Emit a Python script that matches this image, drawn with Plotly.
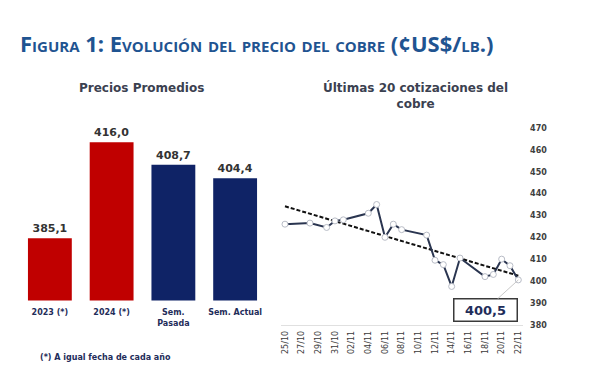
import numpy as np
import pandas as pd
import plotly.graph_objects as go

# ---- data ----
bar_categories = ["2023 (*)", "2024 (*)", "Sem.<br>Pasada", "Sem. Actual"]
bar_values = [385.1, 416.0, 408.7, 404.4]
bar_colors = ["#c00000", "#c00000", "#0f2366", "#0f2366"]

quote_dates = ["2024-10-25", "2024-10-28", "2024-10-30", "2024-10-31", "2024-11-01",
               "2024-11-04", "2024-11-05", "2024-11-06", "2024-11-07", "2024-11-08",
               "2024-11-11", "2024-11-12", "2024-11-13", "2024-11-14", "2024-11-15",
               "2024-11-18", "2024-11-19", "2024-11-20", "2024-11-21", "2024-11-22"]
quote_values = [426.0, 426.5, 424.5, 427.5, 428.0,
                431.0, 435.0, 420.0, 426.0, 423.5,
                421.0, 409.5, 407.5, 397.5, 410.5,
                402.0, 403.0, 410.0, 407.0, 400.5]
last_label = "400,5"

y_ticks = [380, 390, 400, 410, 420, 430, 440, 450, 460, 470]

FONT = "DejaVu Sans"
NAVY = "#1f2d5a"
SLATE = "#3b4150"

# trend line (linear fit over date)
dts = pd.to_datetime(quote_dates)
days = (dts - dts[0]).days.values.astype(float)
coef = np.polyfit(days, np.array(quote_values), 1)
trend = np.polyval(coef, days)

fig = go.Figure()

fig.add_trace(go.Bar(
    x=bar_categories, y=bar_values,
    marker=dict(color=bar_colors, line=dict(width=0)),
    text=[f"{v:.1f}".replace(".", ",") for v in bar_values],
    textposition="outside", cliponaxis=False,
    textfont=dict(family=FONT, size=11, color="#333333", weight="bold"),
    xaxis="x", yaxis="y", showlegend=False,
))

fig.add_trace(go.Scatter(
    x=quote_dates, y=trend, mode="lines",
    line=dict(color="#111111", width=2, dash="4px,2px"),
    xaxis="x2", yaxis="y2", showlegend=False,
))

fig.add_trace(go.Scatter(
    x=quote_dates, y=quote_values, mode="lines+markers",
    line=dict(color="#2a3550", width=2),
    marker=dict(symbol="circle", size=6, color="white", line=dict(color="#b8bcc6", width=1)),
    xaxis="x2", yaxis="y2", showlegend=False,
))

fig.update_layout(
    width=594, height=384,
    margin=dict(l=0, r=0, t=0, b=0),
    paper_bgcolor="white", plot_bgcolor="white",
    bargap=0.29,
    font=dict(family=FONT, color=SLATE),
    xaxis=dict(domain=[11/594, 258/594], anchor="y", showline=False,
               ticks="outside", ticklen=4, tickcolor="white",
               tickfont=dict(family=FONT, size=8, color=NAVY, weight="bold"),
               showgrid=False, zeroline=False),
    yaxis=dict(domain=[0.2305, 0.7688], range=[365, 430], visible=False,
               showgrid=False, zeroline=False),
    xaxis2=dict(domain=[272.8/594, 514.5/594], anchor="y2", type="date",
                range=["2024-10-24 12:00", "2024-11-22 12:00"],
                tick0="2024-10-25", dtick=2*86400000, tickformat="%d/%m",
                tickangle=-90, tickfont=dict(family=FONT, size=8, color="#3a3a3a"),
                showline=True, linecolor="#e0e0e0", linewidth=1,
                ticks="outside", ticklen=2, tickcolor="white",
                showgrid=False, zeroline=False),
    yaxis2=dict(domain=[0.1661, 0.6906], range=[380, 470], side="right", anchor="x2",
                tickvals=y_ticks, ticks="outside", ticklen=5, tickcolor="white",
                tickfont=dict(family=FONT, size=8, color="#404040", weight="bold"),
                showline=False, showgrid=False, zeroline=False),
)

annotations = [
    dict(text="Figura 1: Evolución del precio del cobre (¢US$/lb.)",
         x=10/594, y=1-32/384, xref="paper", yref="paper", xanchor="left", yanchor="middle",
         showarrow=False,
         font=dict(family="Open Sans", size=22, color="#1f5491", weight="bold", variant="small-caps")),
    dict(text="Precios Promedios", x=133/594, y=1-77.5/384, xref="paper", yref="paper",
         xanchor="center", yanchor="middle", showarrow=False,
         font=dict(family=FONT, size=12, color=SLATE, weight="bold")),
    dict(text="Últimas 20 cotizaciones del<br>cobre", x=407/594, y=1-85.7/384,
         xref="paper", yref="paper", xanchor="center", yanchor="middle", showarrow=False,
         font=dict(family=FONT, size=12, color=SLATE, weight="bold")),
    dict(text="(*) A igual fecha de cada año", x=30/594, y=1-354/384,
         xref="paper", yref="paper", xanchor="left", yanchor="middle", showarrow=False,
         font=dict(family=FONT, size=8, color=NAVY, weight="bold")),
    dict(text=last_label, x=quote_dates[-1], y=quote_values[-1], xref="x2", yref="y2",
         showarrow=True, arrowhead=0, arrowwidth=1, arrowcolor="#c8c8c8",
         ax=-33, ay=30, bordercolor="#3a3a3a", borderwidth=1.5, borderpad=3,
         bgcolor="white", width=56,
         font=dict(family=FONT, size=13, color=NAVY, weight="bold")),
]
fig.update_layout(annotations=annotations)

fig.write_html("out.html")
